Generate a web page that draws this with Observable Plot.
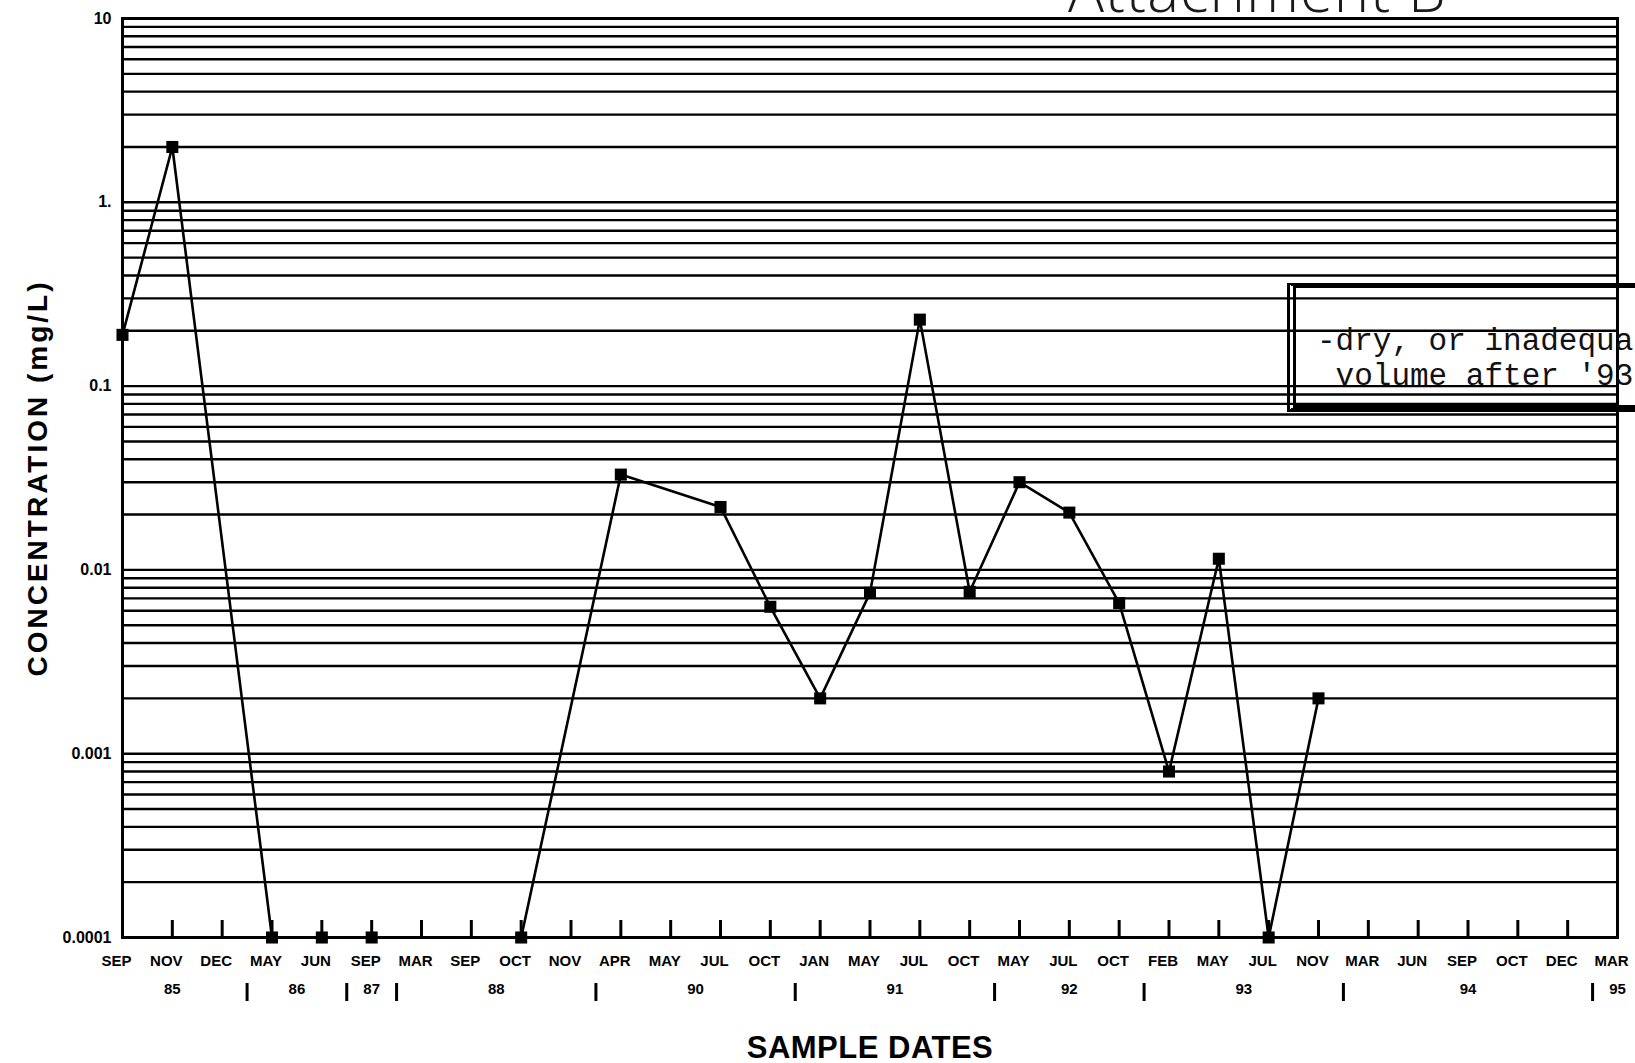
<!DOCTYPE html>
<html>
<head>
<meta charset="utf-8">
<script src="https://cdn.jsdelivr.net/npm/d3@7"></script>
<script src="https://cdn.jsdelivr.net/npm/@observablehq/plot@0.6"></script>
<style>
  html, body { margin: 0; padding: 0; background: #fff; }
  body { width: 1635px; height: 1063px; overflow: hidden; position: relative; }
  #chart { position: absolute; left: 0; top: 0; }
  .stamp {
    position: absolute; left: 1068px; top: -41px;
    font-family: "Open Sans", sans-serif; font-weight: 300;
    font-size: 60px; line-height: 60px; letter-spacing: 1px;
    color: #1a1a1a; white-space: nowrap;
  }
  .note {
    position: absolute; left: 1287px; top: 283px; width: 420px; height: 117px;
    border-top: 5px solid #000; border-bottom: 7px solid #000; border-left: 9px double #000;
  }
  .note p {
    position: absolute; margin: 0; left: 21px;
    font-family: "Liberation Mono", "DejaVu Sans Mono", monospace;
    font-size: 31px; line-height: 31px; white-space: pre; color: #111;
  }
</style>
</head>
<body>
<div id="chart"></div>
<div class="stamp">Attachment B</div>
<div class="note"><p style="top:38px">-dry, or inadequate</p><p style="top:73px"> volume after '93</p></div>
<script>
// Sample dates along the x axis (one entry per sampling event) and their year
const months = ["SEP","NOV","DEC","MAY","JUN","SEP","MAR","SEP","OCT","NOV","APR","MAY","JUL","OCT","JAN","MAY","JUL","OCT","MAY","JUL","OCT","FEB","MAY","JUL","NOV","MAR","JUN","SEP","OCT","DEC","MAR"];
const years  = ["85","85","85","86","86","87","88","88","88","88","90","90","90","90","91","91","91","91","92","92","92","93","93","93","93","94","94","94","94","94","95"];

// Measured concentration (mg/L); null where no result was plotted
const concentration = [0.19, 2.0, null, 0.0001, 0.0001, 0.0001, null, null, 0.0001, null,
  0.033, null, 0.022, 0.0063, 0.002, 0.0075, 0.23, 0.0076, 0.030, 0.0205, 0.0066,
  0.0008, 0.0115, 0.0001, 0.002, null, null, null, null, null, null];

// Labelled decades on the log axis
const yTicks = [0.0001, 0.001, 0.01, 0.1, 1, 10];
const yTickLabels = ["0.0001", "0.001", "0.01", "0.1", "1.", "10"];

const xTitle = "SAMPLE DATES";
const yTitle = "CONCENTRATION (mg/L)";

const samples = months.map((month, i) => ({i, month, year: years[i], value: concentration[i]}));
const measured = samples.filter(d => d.value != null);

// Year captions sit under the middle of each run of sample dates; bars separate the runs
const runs = [];
for (const d of samples) {
  const last = runs[runs.length - 1];
  if (last && last.year === d.year) last.end = d.i;
  else runs.push({year: d.year, start: d.i, end: d.i});
}
const yearLabels = runs.map(r => ({year: r.year, at: (r.start + r.end) / 2}));
const yearBreaks = runs.slice(1).map(r => r.start - 0.5);

// Log-paper rulings: 1..9 in every decade
const [yMin, yMax] = [yTicks[0], yTicks[yTicks.length - 1]];
const rulings = d3.range(Math.log10(yMin), Math.log10(yMax))
  .flatMap(k => d3.range(1, 10).map(m => m * 10 ** k)).concat([yMax]);

const font = "'Liberation Sans', Arial, Helvetica, sans-serif";

const chart = Plot.plot({
  width: 1635,
  height: 1063,
  marginLeft: 122,
  marginRight: 18,
  marginTop: 18,
  marginBottom: 126,
  style: {fontFamily: font, color: "#000", background: "#fff"},
  x: {type: "linear", domain: [0, months.length - 1]},
  y: {type: "log", domain: [yMin, yMax]},
  marks: [
    Plot.ruleY(rulings, {stroke: "#000", strokeWidth: 2.4}),
    Plot.frame({stroke: "#000", strokeWidth: 3}),
    // short inward ticks at each sample date
    Plot.ruleX(d3.range(1, months.length - 1), {x: d => d, y1: yMin, y2: yMin, insetBottom: 17, stroke: "#000", strokeWidth: 3}),
    Plot.axisX({
      ticks: d3.range(months.length), tickFormat: i => months[i],
      tickSize: 0, tickPadding: 18, dx: -6, label: null,
      fontSize: 15, fontWeight: "bold"
    }),
    Plot.axisY({
      ticks: yTicks, tickFormat: d => yTickLabels[yTicks.indexOf(d)],
      tickSize: 0, tickPadding: 11, label: null,
      fontSize: 16, fontWeight: "bold"
    }),
    Plot.text(yearLabels, {x: "at", y: () => yMin, text: "year", dy: 46, lineAnchor: "top", fontSize: 15, fontWeight: "bold"}),
    Plot.ruleX(yearBreaks, {x: d => d, y1: yMin, y2: yMin, insetTop: 46, insetBottom: -64, stroke: "#000", strokeWidth: 3}),
    Plot.line(measured, {x: "i", y: "value", stroke: "#000", strokeWidth: 2.6}),
    Plot.dot(measured, {x: "i", y: "value", symbol: "square", r: 6.8, fill: "#000", stroke: null}),
    Plot.text([xTitle], {frameAnchor: "bottom", textAnchor: "middle", dy: 120, lineAnchor: "bottom", fontSize: 31, fontWeight: "bold"}),
    Plot.text([yTitle], {frameAnchor: "left", textAnchor: "middle", rotate: -90, dx: -95, lineAnchor: "top", fontSize: 28, fontWeight: "bold"})
  ]
});

// Letter spacing for the two axis titles
d3.select(chart).selectAll("text")
  .filter(function() { return this.textContent === yTitle; })
  .style("letter-spacing", "3px");
d3.select(chart).selectAll("text")
  .filter(function() { return this.textContent === xTitle; })
  .style("letter-spacing", "0.5px");

document.getElementById("chart").appendChild(chart);
</script>
</body>
</html>
